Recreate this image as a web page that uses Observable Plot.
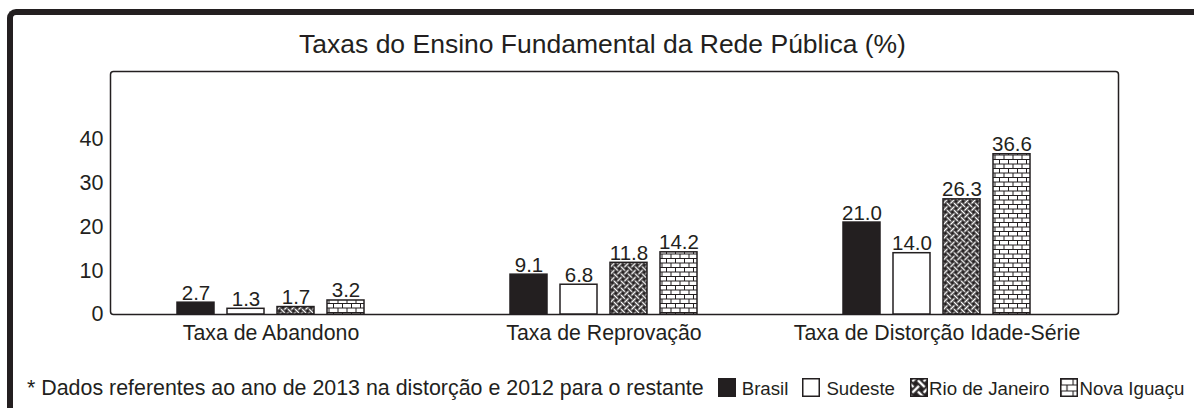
<!DOCTYPE html>
<html>
<head>
<meta charset="utf-8">
<script src="https://cdn.jsdelivr.net/npm/d3@7"></script>
<script src="https://cdn.jsdelivr.net/npm/@observablehq/plot@0.6"></script>
<style>
html,body{margin:0;padding:0;background:#fff;overflow:hidden;width:1194px;height:408px;}
body{font-family:"Liberation Sans",Arial,Helvetica,sans-serif;color:#231f20;position:relative;}
#outer{position:absolute;left:7px;top:9px;width:1300px;height:500px;border-left:6px solid #231f20;border-top:6px solid #231f20;border-top-left-radius:9px;box-sizing:border-box;}
#title{position:absolute;left:0;top:31px;width:1194px;text-align:center;font-size:26.5px;line-height:26px;padding-left:11px;box-sizing:border-box;white-space:nowrap;}
#chart{position:absolute;left:0;top:60px;}
#caption{position:absolute;left:27px;top:376px;line-height:24px;white-space:nowrap;display:flex;align-items:baseline;}
#caption .note{font-size:21.4px;}
#caption .lab{font-size:18.7px;}
#caption .sw{display:inline-block;width:18px;height:19px;position:relative;top:2px;}
#defs{position:absolute;width:0;height:0;}
</style>
</head>
<body>
<svg id="defs" width="0" height="0">
  <defs>
    <pattern id="weave" width="10" height="10" patternUnits="userSpaceOnUse" patternTransform="rotate(45)">
      <rect width="10" height="10" fill="#231f20"/>
      <path d="M0 2.5H10M0 7.5H10M2.5 0V10M7.5 0V10" stroke="#fff" stroke-width="1.6" fill="none"/>
      <path d="M0 2.5H5M5 7.5H10" stroke="#231f20" stroke-width="4" fill="none"/>
      <path d="M0 2.5H5M5 7.5H10" stroke="#fff" stroke-width="1.6" fill="none"/>
      <path d="M7.5 0V5M2.5 5V10" stroke="#231f20" stroke-width="4" fill="none"/>
      <path d="M7.5 0V5M2.5 5V10" stroke="#fff" stroke-width="1.6" fill="none"/>
    </pattern>
    <pattern id="weaveL" href="#weave" patternTransform="rotate(45) scale(1.6)"/>
    <pattern id="brick" width="9" height="9" patternUnits="userSpaceOnUse">
      <rect width="9" height="9" fill="#fff"/>
      <path d="M0 0.5H9M0 5H9M0.5 0.5V5M5 5V9" stroke="#231f20" stroke-width="1" fill="none"/>
    </pattern>
    <pattern id="brickL" width="12" height="12" patternUnits="userSpaceOnUse" x="0.5" y="0.5">
      <rect width="12" height="12" fill="#fff"/>
      <path d="M0 0.5H12M0 6.5H12M0.5 0.5V6.5M6.5 6.5V12" stroke="#231f20" stroke-width="1.2" fill="none"/>
    </pattern>
  </defs>
</svg>
<div id="outer"></div>
<div id="title"></div>
<div id="chart"></div>
<div id="caption"></div>
<script>
const titleText = "Taxas do Ensino Fundamental da Rede Pública (%)";
const noteText = "* Dados referentes ao ano de 2013 na distorção e 2012 para o restante";
const groups = ["Taxa de Abandono", "Taxa de Reprovação", "Taxa de Distorção Idade-Série"];
const series = ["Brasil", "Sudeste", "Rio de Janeiro", "Nova Iguaçu"];
const abandono = [2.7, 1.3, 1.7, 3.2];
const reprovacao = [9.1, 6.8, 11.8, 14.2];
const distorcao = [21.0, 14.0, 26.3, 36.6];
const yTicks = [0, 10, 20, 30, 40];
const seriesFills = ["#231f20", "#ffffff", "url(#weave)", "url(#brick)"];
const legendFills = ["#231f20", "#ffffff", "url(#weaveL)", "url(#brickL)"];

const rows = [abandono, reprovacao, distorcao];
const data = groups.flatMap((g, i) => series.map((s, j) => ({group: g, series: s, value: rows[i][j]})));

document.getElementById("title").textContent = titleText;

const chart = Plot.plot({
  width: 1194,
  height: 295,
  marginLeft: 104,
  marginRight: 91,
  marginTop: 11,
  marginBottom: 41,
  style: {fontFamily: '"Liberation Sans", Arial, Helvetica, sans-serif', fontSize: "20px", color: "#231f20", background: "transparent", overflow: "visible"},
  fx: {domain: groups, padding: 0, label: null},
  x: {domain: series, paddingInner: 0.26, paddingOuter: 1.46, axis: null},
  y: {domain: [0, 55.5]},
  color: {domain: series, range: seriesFills},
  marks: [
    Plot.frame({facet: "super", insetLeft: 6, insetRight: -15, rx: 3, stroke: "#231f20", strokeWidth: 1.5}),
    Plot.barY(data, {fx: "group", x: "series", y: "value", fill: "series", stroke: "#231f20", strokeWidth: 1.5}),
    Plot.text(data, {fx: "group", x: "series", y: "value", text: d => d.value.toFixed(1), lineAnchor: "bottom", dy: -3, fontSize: 20.5, fill: "#231f20"}),
    Plot.axisY({ticks: yTicks, tickSize: 0, tickPadding: 1, label: null, fontSize: 21.5, fill: "#231f20"}),
    Plot.axisFx({anchor: "bottom", tickSize: 0, tickPadding: 10, label: null, fontSize: 21.3, fill: "#231f20"})
  ]
});
document.getElementById("chart").appendChild(chart);

const cap = document.getElementById("caption");
const note = document.createElement("span");
note.className = "note";
note.textContent = noteText;
note.style.marginRight = "14px";
cap.appendChild(note);
const labelGaps = [6, 6, 1, 2];
const afterGaps = [14, 15, 10, 0];
series.forEach((s, i) => {
  const ns = "http://www.w3.org/2000/svg";
  const svg = document.createElementNS(ns, "svg");
  svg.setAttribute("class", "sw");
  svg.setAttribute("width", 18);
  svg.setAttribute("height", 19);
  const r = document.createElementNS(ns, "rect");
  r.setAttribute("x", 0.75); r.setAttribute("y", 0.75);
  r.setAttribute("width", 16.5); r.setAttribute("height", 17.5);
  r.setAttribute("fill", legendFills[i]);
  r.setAttribute("stroke", "#231f20");
  r.setAttribute("stroke-width", 1.5);
  svg.appendChild(r);
  svg.style.marginRight = labelGaps[i] + "px";
  cap.appendChild(svg);
  const t = document.createElement("span");
  t.className = "lab";
  t.textContent = s;
  t.style.marginRight = afterGaps[i] + "px";
  cap.appendChild(t);
});
</script>
</body>
</html>
